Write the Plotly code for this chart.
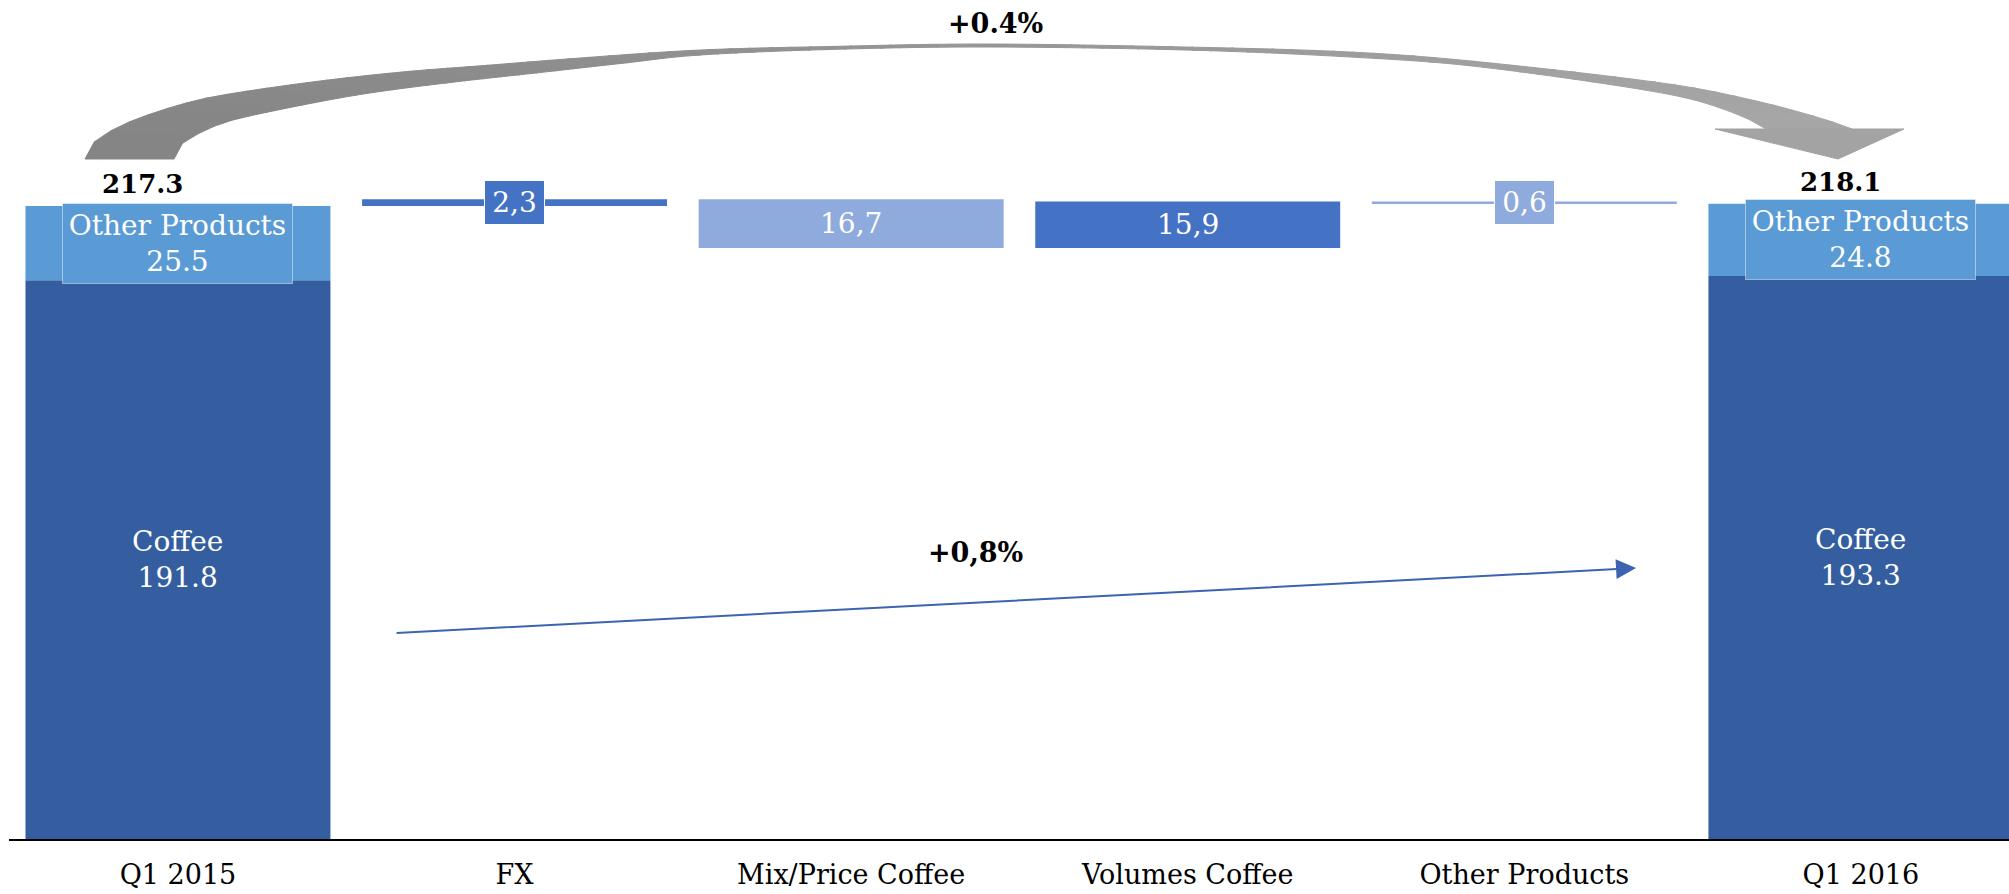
import numpy as np
import plotly.graph_objects as go

# ---- data -------------------------------------------------------------
categories = ["Q1 2015", "FX", "Mix/Price Coffee", "Volumes Coffee", "Other Products", "Q1 2016"]

coffee = [191.8, 193.3]          # Q1 2015, Q1 2016
other_products = [25.5, 24.8]    # Q1 2015, Q1 2016

bridge_values = [2.3, 16.7, 15.9, 0.6]   # FX, Mix/Price, Volumes, Other Products
bridge_signs = [1, -1, 1, -1]            # direction of each step in the bridge

total_change_label = "+0.4%"
coffee_change_label = "+0,8%"

# ---- styling ----------------------------------------------------------
W, H = 2009, 894
M_L, M_R, M_T, M_B = 9, 0, 0, 55
X_RANGE = [-0.502, 5.44]
Y_RANGE = [0, 288.0]
BAR_W = 0.906

C_COFFEE = "#355EA0"
C_OTHER = "#5B9BD5"
C_BRIDGE = ["#4472C4", "#8FAADC", "#4472C4", "#8FAADC"]
C_ARROW_BLUE = "#3D64B0"
SERIF = "DejaVu Serif"

totals = [round(c + o, 1) for c, o in zip(coffee, other_products)]

# floating bases of the bridge steps
bases, level = [], totals[0]
for v, s in zip(bridge_values, bridge_signs):
    nxt = level + s * v
    bases.append(min(level, nxt))
    level = nxt

fig = go.Figure()

end_x = [0, len(categories) - 1]
fig.add_bar(x=end_x, y=coffee, width=BAR_W, marker=dict(color=C_COFFEE, line_width=0),
            hoverinfo="skip")
fig.add_bar(x=end_x, y=other_products, base=coffee, width=BAR_W,
            marker=dict(color=C_OTHER, line_width=0), hoverinfo="skip")
bridge_x = list(range(1, len(categories) - 1))
fig.add_bar(x=bridge_x, y=bridge_values, base=bases, width=BAR_W,
            marker=dict(color=C_BRIDGE, line_width=0), hoverinfo="skip")

ann = []
# segment labels in the end bars
for xi, c, o, t in zip(end_x, coffee, other_products, totals):
    ann.append(dict(x=xi, y=c / 2, text=f"Coffee<br>{c:.1f}", showarrow=False,
                    font=dict(family=SERIF, size=28, color="white")))
    ann.append(dict(x=xi, y=c + o / 2, text=f"Other Products<br>{o:.1f}", showarrow=False,
                    font=dict(family=SERIF, size=28, color="white"),
                    bgcolor=C_OTHER, bordercolor="rgba(255,255,255,0.45)", borderwidth=1,
                    borderpad=1, width=227, height=77, valign="middle"))
# totals above the end bars
for xi, t, dx in zip(end_x, totals, [-0.105, -0.06]):
    ann.append(dict(x=xi + dx, y=t, text=f"<b>{t:.1f}</b>", showarrow=False, yshift=22,
                    font=dict(family=SERIF, size=26, color="black")))
# bridge step labels
for xi, v, b, col in zip(bridge_x, bridge_values, bases, C_BRIDGE):
    txt = f"{v:.1f}".replace(".", ",")
    if v < 5:
        ann.append(dict(x=xi, y=b + v / 2, text=txt, showarrow=False,
                        font=dict(family=SERIF, size=28, color="white"),
                        bgcolor=col, bordercolor="white", borderwidth=1, borderpad=1,
                        width=57, height=41, valign="middle"))
    else:
        ann.append(dict(x=xi, y=b + v / 2, text=txt, showarrow=False,
                        font=dict(family=SERIF, size=28, color="white")))

# change labels
ann.append(dict(x=2.43, y=280.0, text=f"<b>{total_change_label}</b>", showarrow=False,
                font=dict(family=SERIF, size=27, color="black")))
ann.append(dict(x=2.368, y=98.2, text=f"<b>{coffee_change_label}</b>", showarrow=False,
                font=dict(family=SERIF, size=27, color="black")))
# thin trend arrow across the coffee bars
ann.append(dict(x=4.332, y=93.0, ax=0.645, ay=70.7, xref="x", yref="y", axref="x", ayref="y",
                text="", showarrow=True, arrowhead=2, arrowsize=2.0, arrowwidth=2,
                arrowcolor=C_ARROW_BLUE, standoff=0))

# ---- curved grey arrow over the bridge ---------------------------------
PW, PH = W - M_L - M_R, H - M_T - M_B


def to_paper(px, py):
    return (px - M_L) / PW, (H - M_B - py) / PH


def catmull_rom(pts, n=14):
    P = np.asarray(pts, float)
    P = np.vstack([2 * P[0] - P[1], P, 2 * P[-1] - P[-2]])
    out = []
    for i in range(1, len(P) - 2):
        p0, p1, p2, p3 = P[i - 1], P[i], P[i + 1], P[i + 2]
        for t in np.linspace(0, 1, n, endpoint=False):
            t2, t3 = t * t, t * t * t
            out.append(0.5 * (2 * p1 + (-p0 + p2) * t + (2 * p0 - 5 * p1 + 4 * p2 - p3) * t2
                              + (-p0 + 3 * p1 - 3 * p2 + p3) * t3))
    out.append(P[-2])
    return np.array(out)


def resample(curve, m):
    d = np.r_[0, np.cumsum(np.hypot(*np.diff(curve, axis=0).T))]
    s = np.linspace(0, d[-1], m)
    return np.c_[np.interp(s, d, curve[:, 0]), np.interp(s, d, curve[:, 1])]


outer_edge = [(85, 159), (89, 147), (107, 133), (134, 120), (179, 105), (223, 95), (312, 82),
              (402, 72), (491, 65), (580, 58), (700, 50), (829, 46.5), (985, 44), (1186, 47),
              (1350, 52), (1481, 62), (1662, 83), (1752, 100), (1820, 118), (1852, 129)]
inner_edge = [(174, 159), (179, 147), (192, 137), (223, 123), (268, 112), (357, 95), (446, 83),
              (536, 73), (625, 63), (700, 55), (829, 49.5), (985, 47), (1186, 50), (1350, 57),
              (1481, 67), (1662, 93), (1734, 113), (1766, 129)]

N = 90
oe = resample(catmull_rom(outer_edge), N)
ie = resample(catmull_rom(inner_edge), N)

c0, c1 = np.array([133, 133, 133]), np.array([166, 166, 166])
shapes = []


def poly_path(pts):
    pp = [to_paper(x, y) for x, y in pts]
    return "M" + "L".join(f"{a:.5f},{b:.5f}" for a, b in pp) + "Z"


for i in range(N - 1):
    f = i / (N - 2)
    col = "rgb({},{},{})".format(*np.round(c0 + (c1 - c0) * f).astype(int))
    quad = [oe[i], oe[i + 1], ie[i + 1], ie[i]]
    shapes.append(dict(type="path", xref="paper", yref="paper", path=poly_path(quad),
                       fillcolor=col, line=dict(color=col, width=1), layer="above"))
head = [(1715, 129), (1904, 129), (1838, 159)]
shapes.append(dict(type="path", xref="paper", yref="paper", path=poly_path(head),
                   fillcolor="rgb(163,163,163)", line=dict(color="rgb(163,163,163)", width=1),
                   layer="above"))

fig.update_layout(
    width=W, height=H,
    margin=dict(l=M_L, r=M_R, t=M_T, b=M_B, pad=0, autoexpand=False),
    paper_bgcolor="white", plot_bgcolor="white",
    showlegend=False, barmode="overlay",
    annotations=ann, shapes=shapes,
    xaxis=dict(range=X_RANGE, tickvals=list(range(len(categories))), ticktext=categories,
               showline=True, linecolor="black", linewidth=2, showgrid=False, zeroline=False,
               ticks="", ticklabelstandoff=11, automargin=False,
               tickfont=dict(family=SERIF, size=27, color="black")),
    yaxis=dict(range=Y_RANGE, visible=False, showgrid=False, zeroline=False, automargin=False),
)

fig.write_html("out.html")
